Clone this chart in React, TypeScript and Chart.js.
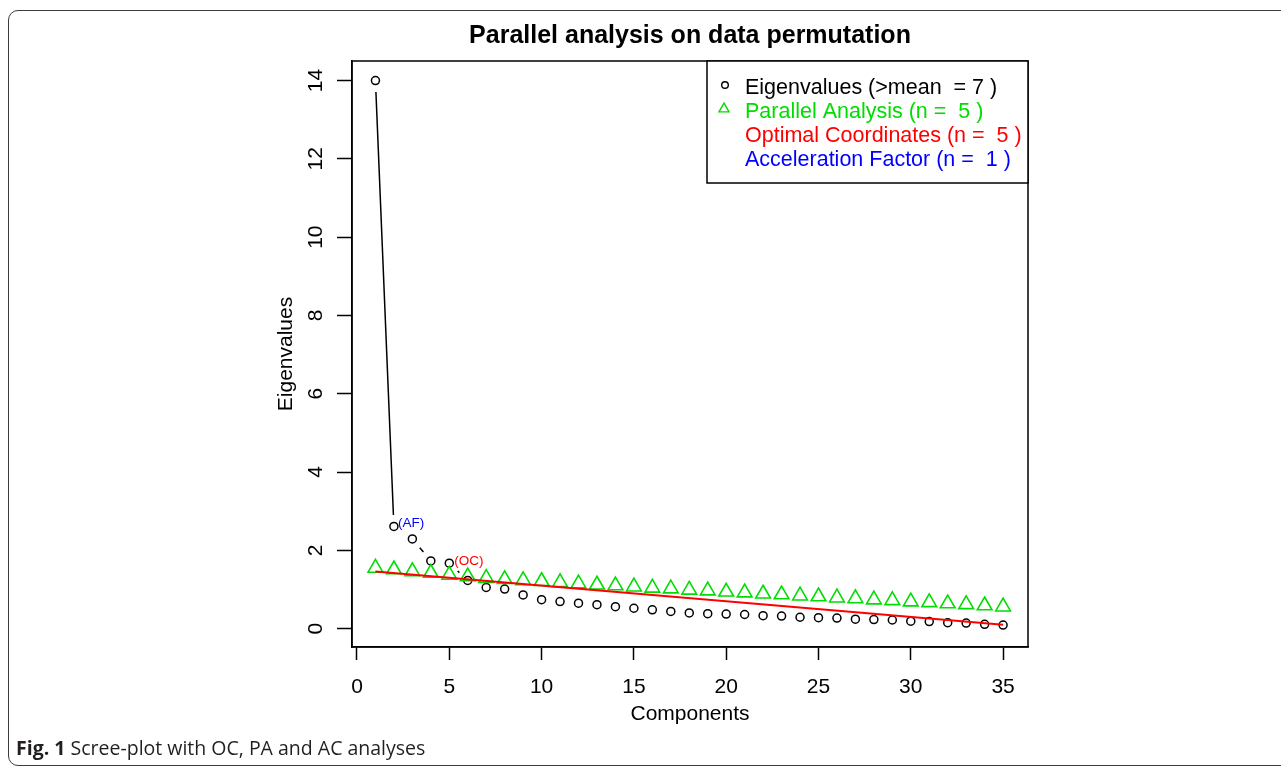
import React, { useEffect, useRef } from "react";
import { Chart, registerables } from "chart.js";

Chart.register(...registerables);

const FONT = "'Liberation Sans', Arial, Helvetica, sans-serif";

const titleText = "Parallel analysis on data permutation";
const xTitle = "Components";
const yTitle = "Eigenvalues";
const captionLabel = "Fig. 1";
const captionText = "Scree-plot with OC, PA and AC analyses";

const components = [
  1, 2, 3, 4, 5, 6, 7, 8, 9, 10, 11, 12, 13, 14, 15, 16, 17, 18, 19, 20,
  21, 22, 23, 24, 25, 26, 27, 28, 29, 30, 31, 32, 33, 34, 35,
];
const eigenvalues = [
  14.0, 2.61, 2.29, 1.73, 1.67, 1.23, 1.05, 1.01, 0.86, 0.74, 0.69, 0.65,
  0.61, 0.56, 0.52, 0.48, 0.44, 0.4, 0.38, 0.37, 0.36, 0.33, 0.32, 0.29,
  0.28, 0.27, 0.24, 0.23, 0.22, 0.19, 0.18, 0.15, 0.14, 0.11, 0.09,
];
const parallelAnalysis = [
  1.55, 1.51, 1.46, 1.42, 1.37, 1.33, 1.29, 1.26, 1.23, 1.21, 1.18, 1.15,
  1.12, 1.1, 1.07, 1.04, 1.02, 0.99, 0.97, 0.94, 0.92, 0.89, 0.87, 0.84,
  0.82, 0.79, 0.77, 0.74, 0.72, 0.69, 0.67, 0.64, 0.62, 0.59, 0.56,
];
const ocLineX = [1, 35];
const ocLineY = [1.46, 0.1];

const xTickValues = [0, 5, 10, 15, 20, 25, 30, 35];
const yTickValues = [0, 2, 4, 6, 8, 10, 12, 14];

const legendLabels = [
  "Eigenvalues (>mean  = 7 )",
  "Parallel Analysis (n =  5 )",
  "Optimal Coordinates (n =  5 )",
  "Acceleration Factor (n =  1 )",
];

const GREEN = "#00dd00";
const RED = "#ff0000";
const BLUE = "#0000ff";
const legendColors = ["#000000", GREEN, RED, BLUE];

const afComponent = 2;
const afText = "(AF)";
const ocComponent = 5;
const ocText = "(OC)";

export default function App() {
  const ref = useRef<HTMLCanvasElement>(null);

  useEffect(() => {
    const canvas = ref.current;
    if (!canvas) return;
    Chart.defaults.font.family = FONT;
    Chart.defaults.color = "#000";

    const rPlot = {
      id: "rPlot",
      afterDraw(chart: any) {
        const ctx = chart.ctx as CanvasRenderingContext2D;
        const { left, top, right, bottom } = chart.chartArea;
        const xs = chart.scales.x;
        const ys = chart.scales.y;
        ctx.save();

        // plot box
        ctx.strokeStyle = "#000";
        ctx.lineWidth = 1.5;
        ctx.strokeRect(left, top, right - left, bottom - top);

        // type "b" line for eigenvalues (segments with gaps around points)
        const gap = 11.5;
        ctx.beginPath();
        for (let i = 0; i < components.length - 1; i++) {
          const x1 = xs.getPixelForValue(components[i]);
          const y1 = ys.getPixelForValue(eigenvalues[i]);
          const x2 = xs.getPixelForValue(components[i + 1]);
          const y2 = ys.getPixelForValue(eigenvalues[i + 1]);
          const d = Math.hypot(x2 - x1, y2 - y1);
          if (d <= 2 * gap) continue;
          const ux = (x2 - x1) / d;
          const uy = (y2 - y1) / d;
          ctx.moveTo(x1 + ux * gap, y1 + uy * gap);
          ctx.lineTo(x2 - ux * gap, y2 - uy * gap);
        }
        ctx.stroke();

        // rotated y tick labels (R style)
        ctx.fillStyle = "#000";
        ctx.font = `21px ${FONT}`;
        ctx.textAlign = "center";
        ctx.textBaseline = "alphabetic";
        ys.ticks.forEach((t: any) => {
          const py = ys.getPixelForValue(t.value);
          ctx.save();
          ctx.translate(left - 30, py);
          ctx.rotate(-Math.PI / 2);
          ctx.fillText(String(t.value), 0, 0);
          ctx.restore();
        });

        // (AF) and (OC) annotations
        ctx.font = `13.5px ${FONT}`;
        ctx.textAlign = "left";
        ctx.textBaseline = "middle";
        const afI = components.indexOf(afComponent);
        ctx.fillStyle = BLUE;
        ctx.fillText(
          afText,
          xs.getPixelForValue(components[afI]) + 4,
          ys.getPixelForValue(eigenvalues[afI]) - 3
        );
        const ocI = components.indexOf(ocComponent);
        ctx.fillStyle = RED;
        ctx.fillText(
          ocText,
          xs.getPixelForValue(components[ocI]) + 5,
          ys.getPixelForValue(eigenvalues[ocI]) - 2
        );

        // legend box (top right)
        const lw = 321;
        const lh = 122;
        const lx = right - lw;
        const ly = top;
        ctx.fillStyle = "#fff";
        ctx.fillRect(lx, ly, lw, lh);
        ctx.strokeStyle = "#000";
        ctx.lineWidth = 1.5;
        ctx.strokeRect(lx, ly, lw, lh);

        // legend symbols
        ctx.lineWidth = 1.4;
        ctx.strokeStyle = "#000";
        ctx.beginPath();
        ctx.arc(lx + 18, ly + 24, 3.3, 0, Math.PI * 2);
        ctx.stroke();
        const tr = 5.8;
        const tx = lx + 17;
        const ty = ly + 48;
        ctx.strokeStyle = GREEN;
        ctx.beginPath();
        ctx.moveTo(tx, ty - tr);
        ctx.lineTo(tx + 0.866 * tr, ty + 0.5 * tr);
        ctx.lineTo(tx - 0.866 * tr, ty + 0.5 * tr);
        ctx.closePath();
        ctx.stroke();

        ctx.font = `21.5px ${FONT}`;
        ctx.textAlign = "left";
        ctx.textBaseline = "middle";
        legendLabels.forEach((lab, i) => {
          ctx.fillStyle = legendColors[i];
          ctx.fillText(lab, lx + 38, ly + 27 + 24 * i);
        });

        ctx.restore();
      },
    };

    const chart = new Chart(canvas, {
      type: "scatter",
      data: {
        datasets: [
          {
            label: "Optimal Coordinates",
            data: ocLineX.map((x, i) => ({ x, y: ocLineY[i] })),
            showLine: true,
            borderColor: RED,
            borderWidth: 2,
            pointRadius: 0,
            fill: false,
          },
          {
            label: "Parallel Analysis",
            data: components.map((x, i) => ({ x, y: parallelAnalysis[i] })),
            showLine: false,
            pointStyle: "triangle",
            pointRadius: 8.5,
            pointBorderWidth: 1.6,
            pointBorderColor: GREEN,
            pointBackgroundColor: "rgba(0,0,0,0)",
            borderColor: GREEN,
          },
          {
            label: "Eigenvalues",
            data: components.map((x, i) => ({ x, y: eigenvalues[i] })),
            showLine: false,
            pointStyle: "circle",
            pointRadius: 4,
            pointBorderWidth: 1.5,
            pointBorderColor: "#000",
            pointBackgroundColor: "rgba(0,0,0,0)",
            borderColor: "#000",
          },
        ],
      },
      options: {
        animation: false,
        responsive: false,
        events: [],
        layout: { padding: { left: 0, right: 253, top: 0, bottom: 0 } },
        plugins: {
          legend: { display: false },
          tooltip: { enabled: false },
          title: {
            display: true,
            text: titleText,
            fullSize: false,
            color: "#000",
            font: { size: 25, weight: "bold", family: FONT },
            padding: { top: 21, bottom: 10 },
          },
        },
        scales: {
          x: {
            type: "linear",
            min: -0.27,
            max: 36.35,
            afterBuildTicks: (s: any) => {
              s.ticks = xTickValues.map((v) => ({ value: v }));
            },
            afterFit: (s: any) => {
              s.height = 121;
            },
            grid: {
              drawOnChartArea: false,
              drawTicks: true,
              tickLength: 13,
              tickColor: "#000",
              tickWidth: 1.5,
            },
            border: { display: true, color: "#000", width: 1.5 },
            ticks: {
              autoSkip: false,
              maxRotation: 0,
              minRotation: 0,
              padding: 15,
              color: "#000",
              font: { size: 21, family: FONT },
            },
            title: {
              display: true,
              text: xTitle,
              color: "#000",
              font: { size: 21, family: FONT },
              padding: { top: 0, bottom: 41 },
            },
          },
          y: {
            type: "linear",
            min: -0.47,
            max: 14.5,
            afterBuildTicks: (s: any) => {
              s.ticks = yTickValues.map((v) => ({ value: v }));
            },
            afterFit: (s: any) => {
              s.width = 352;
            },
            grid: {
              drawOnChartArea: false,
              drawTicks: true,
              tickLength: 15,
              tickColor: "#000",
              tickWidth: 1.5,
            },
            border: { display: true, color: "#000", width: 1.5 },
            ticks: { display: false },
            title: {
              display: true,
              text: yTitle,
              color: "#000",
              font: { size: 21, family: FONT },
              padding: { top: 274, bottom: 0 },
            },
          },
        },
      },
      plugins: [rPlot],
    } as any);

    return () => chart.destroy();
  }, []);

  return (
    <div
      style={{
        position: "absolute",
        left: 0,
        top: 0,
        width: 1281,
        height: 768,
        overflow: "hidden",
        background: "#fff",
      }}
    >
      <div
        style={{
          position: "absolute",
          left: 8,
          top: 10,
          width: 1300,
          height: 756,
          boxSizing: "border-box",
          border: "1.5px solid #3c3c3c",
          borderRadius: 10,
        }}
      />
      <canvas
        ref={ref}
        width={1281}
        height={768}
        style={{ position: "absolute", left: 0, top: 0, width: 1281, height: 768 }}
      />
      <div
        style={{
          position: "absolute",
          left: 16,
          top: 735,
          fontFamily: "'Open Sans', sans-serif",
          fontSize: 19.5,
          lineHeight: "26px",
          color: "#231f20",
          whiteSpace: "nowrap",
        }}
      >
        <b>{captionLabel}</b> {captionText}
      </div>
    </div>
  );
}
